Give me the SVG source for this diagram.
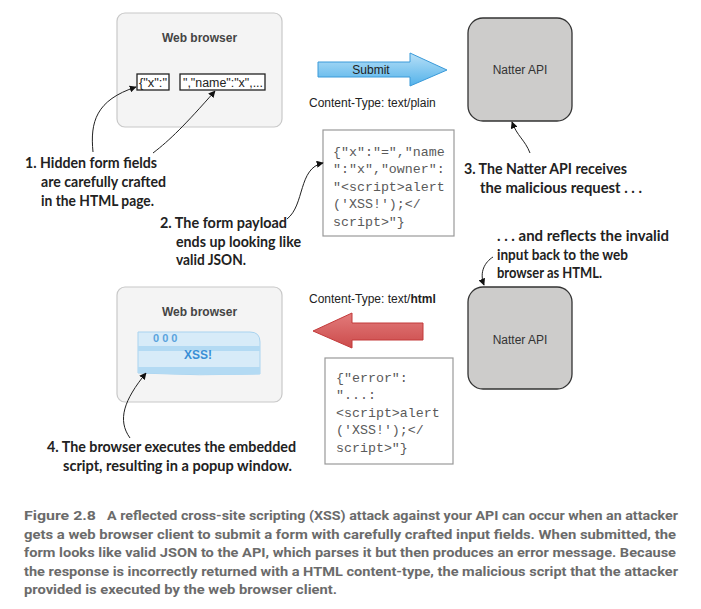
<svg xmlns="http://www.w3.org/2000/svg" width="701" height="609" viewBox="0 0 701 609">
<defs>
<linearGradient id="gBlue" x1="0" y1="0" x2="0" y2="1"><stop offset="0" stop-color="#b8e0f7"/><stop offset="1" stop-color="#53b2ea"/></linearGradient>
<linearGradient id="gRed" x1="0" y1="0" x2="0" y2="1"><stop offset="0" stop-color="#e27b7b"/><stop offset="1" stop-color="#cc4b4b"/></linearGradient>
<marker id="ah" viewBox="0 0 10 10" refX="9" refY="5" markerWidth="7" markerHeight="7" orient="auto-start-reverse" markerUnits="userSpaceOnUse"><path d="M0,0 L10,5 L0,10 z" fill="#111"/></marker>
<style>
.browser{fill:#f4f4f4;stroke:#c8c8c8;stroke-width:1.2}
.api{fill:#cdcccb;stroke:#333;stroke-width:1.3}
.field{fill:#fff;stroke:#222;stroke-width:1.3}
.json{fill:#fff;stroke:#999;stroke-width:1.2}
.t{font-family:"Liberation Sans",Arial,sans-serif;font-size:12px;fill:#222}
.tb{font-family:"Liberation Sans",Arial,sans-serif;font-size:12px;font-weight:bold;fill:#444}
.mono{font-family:"Liberation Mono","DejaVu Sans Mono",monospace;font-size:13.3px;fill:#5a5a5a}
.lab{font-family:Lato,"Open Sans",sans-serif;font-size:14.5px;font-weight:bold;fill:#222}
.cap{font-family:"Roboto","Liberation Sans",sans-serif;font-size:13px;font-weight:bold;fill:#6b6b6b}
.conn{fill:none;stroke:#222;stroke-width:1}
</style>
</defs>
<rect width="701" height="609" fill="#fff"/>

<g id="browser1">
<rect class="browser" x="117" y="13" width="165" height="114" rx="8"/>
<text class="tb" x="199.5" y="42" text-anchor="middle">Web browser</text>
<rect class="field" x="137" y="74" width="32" height="16"/>
<text class="t" x="139" y="87" textLength="28" lengthAdjust="spacingAndGlyphs">{"x":"</text>
<rect class="field" x="180" y="74" width="85" height="16"/>
<text class="t" x="183" y="87" textLength="80" lengthAdjust="spacingAndGlyphs">","name":"x",...</text>
</g>

<g id="submit">
<path d="M318,62 L410,62 L410,53 L447,70 L410,86 L410,77 L318,77 Z" fill="url(#gBlue)" stroke="#3a9ad9" stroke-width="1"/>
<text class="t" x="371" y="74" text-anchor="middle">Submit</text>
<text class="t" x="309" y="107">Content-Type: text/plain</text>
</g>

<g id="api1">
<rect class="api" x="468" y="18" width="104" height="103" rx="15"/>
<text class="t" x="520" y="74" text-anchor="middle" style="fill:#333">Natter API</text>
</g>

<g id="json1">
<rect class="json" x="323" y="130" width="131" height="106"/>
<text class="mono" x="333" y="156">{"x":"=","name</text>
<text class="mono" x="333" y="173">":"x","owner":</text>
<text class="mono" x="333" y="191">"&lt;script&gt;alert</text>
<text class="mono" x="333" y="208">('XSS!');&lt;/</text>
<text class="mono" x="333" y="226">script&gt;"}</text>
</g>

<g id="label1">
<text class="lab" x="25" y="168" textLength="132" lengthAdjust="spacingAndGlyphs">1. Hidden form fields</text>
<text class="lab" x="41" y="187" textLength="125" lengthAdjust="spacingAndGlyphs">are carefully crafted</text>
<text class="lab" x="41" y="206" textLength="113" lengthAdjust="spacingAndGlyphs">in the HTML page.</text>
</g>
<g id="label2">
<text class="lab" x="160" y="228" textLength="127" lengthAdjust="spacingAndGlyphs">2. The form payload</text>
<text class="lab" x="176" y="247" textLength="125" lengthAdjust="spacingAndGlyphs">ends up looking like</text>
<text class="lab" x="176" y="265" textLength="70" lengthAdjust="spacingAndGlyphs">valid JSON.</text>
</g>
<g id="label3">
<text class="lab" x="464" y="174" textLength="163" lengthAdjust="spacingAndGlyphs">3. The Natter API receives</text>
<text class="lab" x="480" y="193" textLength="162" lengthAdjust="spacingAndGlyphs">the malicious request . . .</text>
</g>
<g id="label3b">
<text class="lab" x="497" y="241" textLength="172" lengthAdjust="spacingAndGlyphs">. . . and reflects the invalid</text>
<text class="lab" x="497" y="260" textLength="131" lengthAdjust="spacingAndGlyphs">input back to the web</text>
<text class="lab" x="497" y="278" textLength="105" lengthAdjust="spacingAndGlyphs">browser as HTML.</text>
</g>

<g id="browser2">
<rect class="browser" x="117" y="287" width="165" height="115" rx="8"/>
<text class="tb" x="199.5" y="316" text-anchor="middle">Web browser</text>
<path d="M138,332 L250,332 Q260,332 260,342 L260,374 Q200,376 138,373 Z" fill="#d7ebf8" stroke="#a9d3ef" stroke-width="1"/>
<rect x="138" y="346" width="122" height="5" fill="#b3daf3"/>
<path d="M138,367 L260,367 L260,374 Q200,376 138,373 Z" fill="#b3daf3"/>
<text x="153" y="342" style="font-family:'Liberation Sans',Arial,sans-serif;font-size:11px;font-weight:bold;fill:#5aa3dd">0 0 0</text>
<text x="198" y="359" text-anchor="middle" style="font-family:'Liberation Sans',Arial,sans-serif;font-size:12px;font-weight:bold;fill:#3a8fd6">XSS!</text>
</g>

<g id="response">
<text class="t" x="309" y="303">Content-Type: text/<tspan font-weight="bold">html</tspan></text>
<path d="M423,323 L352,323 L352,313 L313,331 L352,348 L352,340 L423,340 Z" fill="url(#gRed)" stroke="#c33a3a" stroke-width="1"/>
</g>

<g id="api2">
<rect class="api" x="468" y="287" width="104" height="102" rx="15"/>
<text class="t" x="520" y="344" text-anchor="middle" style="fill:#333">Natter API</text>
</g>

<g id="json2">
<rect class="json" x="325" y="358" width="128" height="106"/>
<text class="mono" x="336" y="382">{"error":</text>
<text class="mono" x="336" y="399">"...:</text>
<text class="mono" x="336" y="417">&lt;script&gt;alert</text>
<text class="mono" x="336" y="434">('XSS!');&lt;/</text>
<text class="mono" x="336" y="452">script&gt;"}</text>
</g>

<g id="label4">
<text class="lab" x="47" y="452" textLength="249" lengthAdjust="spacingAndGlyphs">4. The browser executes the embedded</text>
<text class="lab" x="63" y="471" textLength="229" lengthAdjust="spacingAndGlyphs">script, resulting in a popup window.</text>
</g>

<g id="connectors">
<path class="conn" d="M93,152 C90,122 96,100 136,87" marker-end="url(#ah)"/>
<path class="conn" d="M153,153 C170,140 185,125 215,91" marker-end="url(#ah)"/>
<path class="conn" d="M287,219 C305,205 298,168 323,163" marker-end="url(#ah)"/>
<path class="conn" d="M530,153 C525,140 517,136 512,122" marker-end="url(#ah)"/>
<path class="conn" d="M493,257 C485,262 479,272 484,285" marker-end="url(#ah)"/>
<path class="conn" d="M130,438 C117,420 124,400 146,373" marker-end="url(#ah)"/>
</g>

<g id="caption">
<text class="cap" x="24" y="520" textLength="72" lengthAdjust="spacingAndGlyphs">Figure 2.8</text>
<text class="cap" x="107" y="520" textLength="571" lengthAdjust="spacingAndGlyphs">A reflected cross-site scripting (XSS) attack against your API can occur when an attacker</text>
<text class="cap" x="24" y="539" textLength="652" lengthAdjust="spacingAndGlyphs">gets a web browser client to submit a form with carefully crafted input fields. When submitted, the</text>
<text class="cap" x="24" y="557" textLength="652" lengthAdjust="spacingAndGlyphs">form looks like valid JSON to the API, which parses it but then produces an error message. Because</text>
<text class="cap" x="24" y="576" textLength="654" lengthAdjust="spacingAndGlyphs">the response is incorrectly returned with a HTML content-type, the malicious script that the attacker</text>
<text class="cap" x="24" y="594" textLength="313" lengthAdjust="spacingAndGlyphs">provided is executed by the web browser client.</text>
</g>
</svg>
